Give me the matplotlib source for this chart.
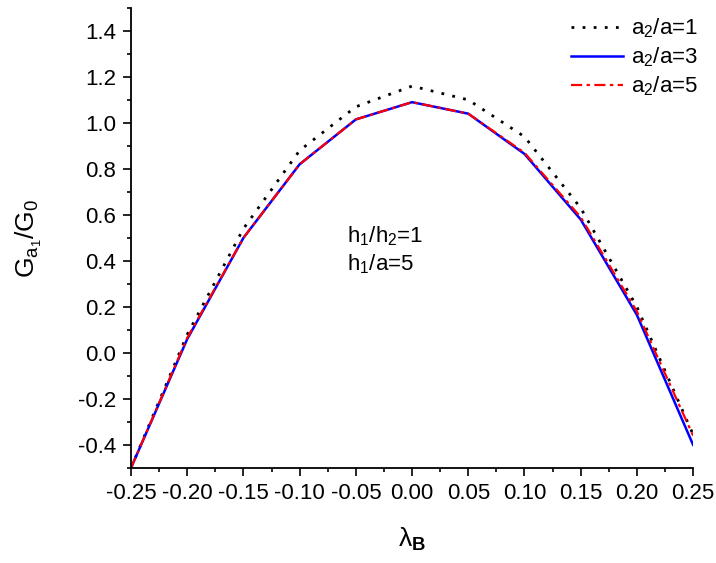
import numpy as np
from matplotlib import pyplot as plt
from matplotlib.ticker import MultipleLocator

# values
lam_b = [-0.25, -0.20, -0.15, -0.10, -0.05, 0.00, 0.05, 0.10, 0.15, 0.20, 0.25]
g_ratio1 = [-0.50, 0.08, 0.54, 0.88, 1.07, 1.16, 1.10, 0.94, 0.63, 0.20, -0.355]
g_ratio3 = [-0.50, 0.06, 0.50, 0.82, 1.015, 1.09, 1.04, 0.865, 0.58, 0.165, -0.40]
g_ratio5 = [-0.50, 0.065, 0.50, 0.82, 1.015, 1.09, 1.04, 0.87, 0.59, 0.18, -0.36]
labels = [r'a$_2$/a=1', r'a$_2$/a=3', r'a$_2$/a=5']
xticks = [-0.25, -0.20, -0.15, -0.10, -0.05, 0.00, 0.05, 0.10, 0.15, 0.20, 0.25]

plt.rcParams['font.family'] = ['Liberation Sans', 'DejaVu Sans']
plt.rcParams['mathtext.fontset'] = 'custom'
plt.rcParams['mathtext.rm'] = 'Liberation Sans'
plt.rcParams['mathtext.it'] = 'Liberation Sans'
plt.rcParams['mathtext.bf'] = 'Liberation Sans:bold'
plt.rcParams['mathtext.default'] = 'regular'

fig = plt.figure(figsize=(7.16, 5.63), dpi=100)
ax = fig.add_axes([0.183, 0.169, 0.785, 0.817])

ax.plot(lam_b, g_ratio1, color='black', linestyle=(0, (1, 3)), linewidth=2, label=labels[0])
ax.plot(lam_b, g_ratio3, color='blue', linestyle='-', linewidth=1.8, label=labels[1])
ax.plot(lam_b, g_ratio5, color='red', linestyle=(0, (5, 2, 1.5, 2)), linewidth=1.6, label=labels[2])

ax.set_xlim(-0.25, 0.25)
ax.set_ylim(-0.5, 1.5)
ax.set_xticks(xticks)
ax.set_xticklabels([f'{t:.2f}' for t in xticks])
ax.set_yticks(np.arange(-0.4, 1.41, 0.2))
ax.yaxis.set_major_formatter(plt.FuncFormatter(lambda v, p: f'{v:.1f}'))
ax.xaxis.set_minor_locator(MultipleLocator(0.025))
ax.yaxis.set_minor_locator(MultipleLocator(0.1))

for side in ['top', 'right']:
    ax.spines[side].set_visible(False)
for side in ['left', 'bottom']:
    ax.spines[side].set_linewidth(1.3)
ax.tick_params(which='major', direction='out', length=6, width=1.2, labelsize=16, pad=5)
ax.tick_params(which='minor', direction='out', length=3, width=1.2)

ax.set_ylabel(r'G$_{a_1}$/G$_0$', fontsize=19)
ax.yaxis.set_label_coords(-0.155, 0.5)
ax.set_xlabel(r'$\lambda_{\mathbf{B}}$', fontsize=19)
ax.xaxis.set_label_coords(0.5, -0.125)

ax.text(0.385, 0.491, r'h$_1$/h$_2$=1', transform=ax.transAxes, fontsize=16)
ax.text(0.385, 0.43, r'h$_1$/a=5', transform=ax.transAxes, fontsize=16)

ax.legend(loc='upper right', bbox_to_anchor=(1.045, 1.025), frameon=False, fontsize=16,
          handlelength=2.3, handletextpad=0.4, labelspacing=0.25)

fig.savefig('out.png', dpi=100)
